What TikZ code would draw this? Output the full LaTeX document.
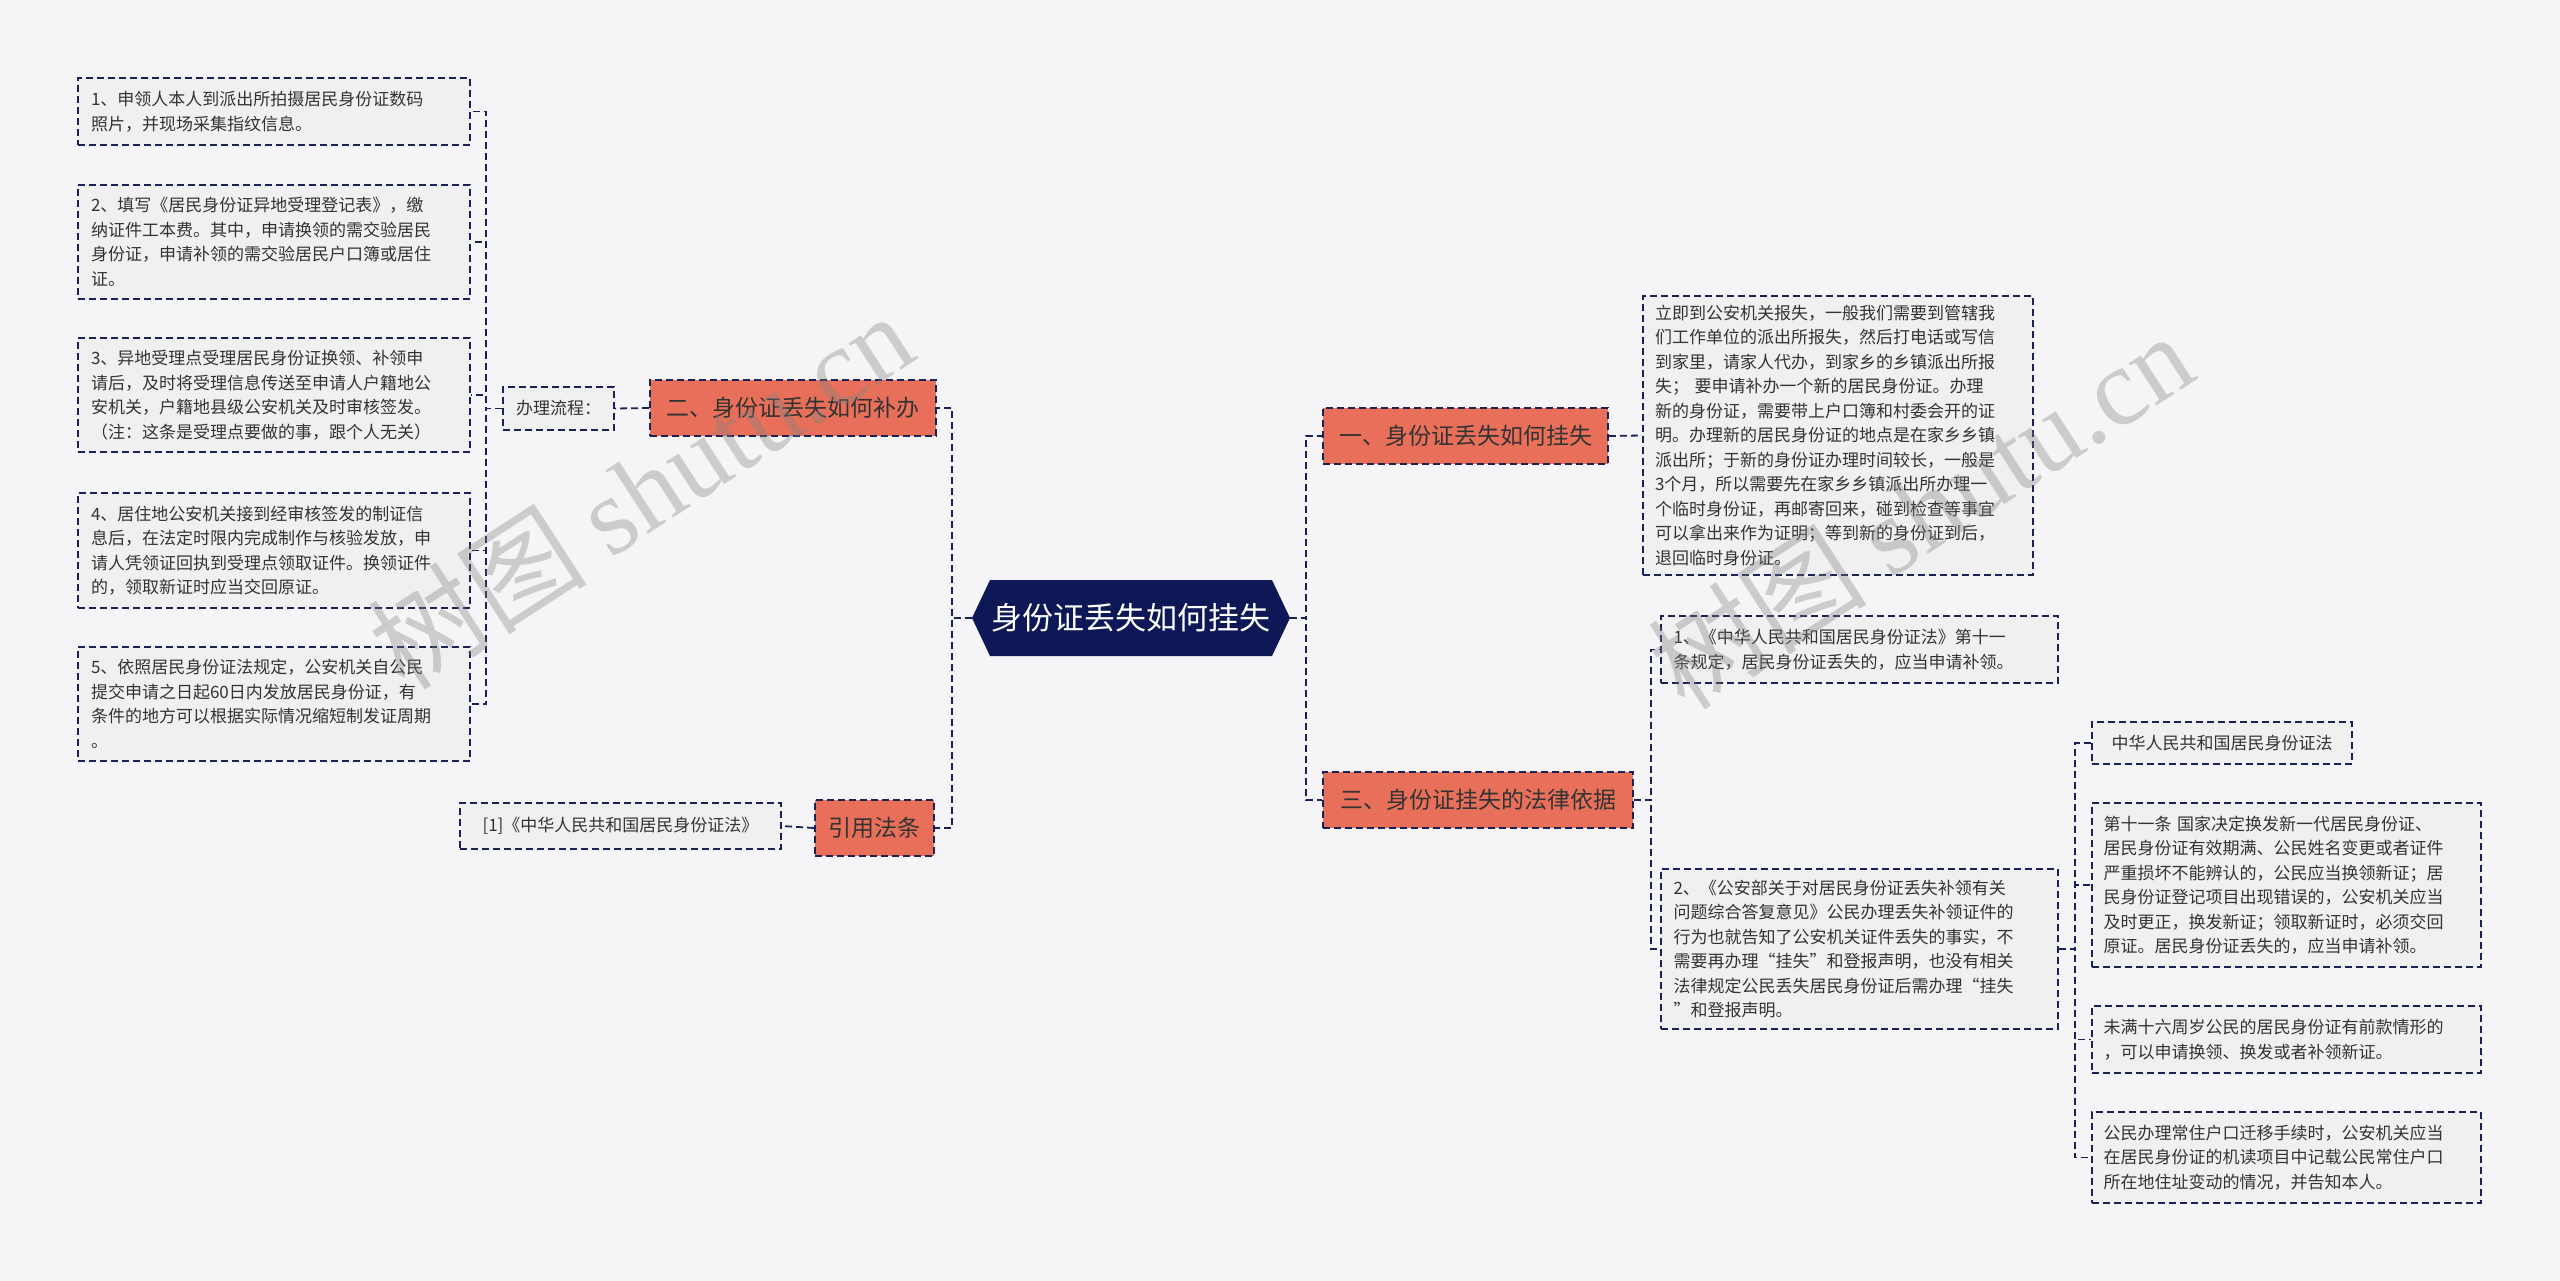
\documentclass[tikz,border=0pt]{standalone}
\usepackage{fontspec}
\setmainfont{Noto Sans CJK SC}
\newfontfamily\wmlat{Liberation Serif}
\usetikzlibrary{calc}
\definecolor{bgc}{HTML}{F5F5F7}
\definecolor{boxc}{HTML}{F0F0F0}
\definecolor{navy}{HTML}{1A2156}
\definecolor{ctr}{HTML}{0E1857}
\definecolor{sal}{HTML}{E8705A}
\definecolor{txt}{HTML}{333333}
\tikzset{
 dsh/.style={dash pattern=on 7pt off 4pt},
 box/.style={draw=navy,dsh,line width=1.8pt,fill=boxc,text=txt,font=\fontsize{17}{24.5}\selectfont,align=left,inner sep=0pt,anchor=center},
 br/.style={draw=navy,dsh,line width=1.8pt,fill=sal,text=txt,font=\fontsize{23}{28}\selectfont,inner sep=0pt},
 con/.style={draw=navy,dsh,line width=1.8pt},
 wm/.style={text=gray,opacity=0.35,font=\fontsize{110}{110}\selectfont,rotate=33}
}
\begin{document}
\begin{tikzpicture}[x=1pt,y=-1pt]
\fill[bgc] (0,0) rectangle (2560,1281);
\useasboundingbox (0,0) rectangle (2560,1281);
% center
\fill[ctr] (972,618) -- (990,580) -- (1272,580) -- (1290,618) -- (1272,656) -- (990,656) -- cycle;
\node[text=white,font=\fontsize{31}{34}\selectfont,minimum width=318pt,minimum height=76pt,inner sep=0pt] (c) at (1131,618) {身份证丢失如何挂失};
% left
\node[br,minimum width=286pt,minimum height=56pt] (two) at (793,408) {二、身份证丢失如何补办};
\node[br,minimum width=119pt,minimum height=56pt] (ref) at (874.5,828) {引用法条};
\node[box,minimum width=111pt,minimum height=43pt,align=center] (flow) at (558.5,408.5) {办理流程：};
\node[box,minimum width=321pt,minimum height=46pt,align=center] (r1) at (620.5,826) {[1]《中华人民共和国居民身份证法》};
\node[box,minimum width=392pt,minimum height=67pt,text width=366pt] (b1) at (274,111.5) {1、申领人本人到派出所拍摄居民身份证数码\\照片，并现场采集指纹信息。};
\node[box,minimum width=392pt,minimum height=114pt,text width=366pt] (b2) at (274,242) {2、填写《居民身份证异地受理登记表》，缴\\纳证件工本费。其中，申请换领的需交验居民\\身份证，申请补领的需交验居民户口簿或居住\\证。};
\node[box,minimum width=392pt,minimum height=114pt,text width=366pt] (b3) at (274,395) {3、异地受理点受理居民身份证换领、补领申\\请后，及时将受理信息传送至申请人户籍地公\\安机关，户籍地县级公安机关及时审核签发。\\（注：这条是受理点要做的事，跟个人无关）};
\node[box,minimum width=392pt,minimum height=115pt,text width=366pt] (b4) at (274,550.5) {4、居住地公安机关接到经审核签发的制证信\\息后，在法定时限内完成制作与核验发放，申\\请人凭领证回执到受理点领取证件。换领证件\\的，领取新证时应当交回原证。};
\node[box,minimum width=392pt,minimum height=114pt,text width=366pt] (b5) at (274,704) {5、依照居民身份证法规定，公安机关自公民\\提交申请之日起60日内发放居民身份证，有\\条件的地方可以根据实际情况缩短制发证周期\\。};
% right
\node[br,minimum width=285pt,minimum height=56pt] (one) at (1465.5,436) {一、身份证丢失如何挂失};
\node[br,minimum width=310pt,minimum height=56pt] (three) at (1478,800) {三、身份证挂失的法律依据};
\node[box,minimum width=390pt,minimum height=279pt,text width=366pt] (t1) at (1838,435.5) {立即到公安机关报失，一般我们需要到管辖我\\们工作单位的派出所报失，然后打电话或写信\\到家里，请家人代办，到家乡的乡镇派出所报\\失；\ 要申请补办一个新的居民身份证。办理\\新的身份证，需要带上户口簿和村委会开的证\\明。办理新的居民身份证的地点是在家乡乡镇\\派出所；于新的身份证办理时间较长，一般是\\3个月，所以需要先在家乡乡镇派出所办理一\\个临时身份证，再邮寄回来，碰到检查等事宜\\可以拿出来作为证明；等到新的身份证到后，\\退回临时身份证。};
\node[box,minimum width=397pt,minimum height=67pt,text width=372pt] (l1) at (1859.5,649.5) {1、《中华人民共和国居民身份证法》第十一\\条规定，居民身份证丢失的，应当申请补领。};
\node[box,minimum width=397pt,minimum height=160pt,text width=372pt] (l2) at (1859.5,949) {2、《公安部关于对居民身份证丢失补领有关\\问题综合答复意见》公民办理丢失补领证件的\\行为也就告知了公安机关证件丢失的事实，不\\需要再办理“挂失”和登报声明，也没有相关\\法律规定公民丢失居民身份证后需办理“挂失\\”和登报声明。};
\node[box,minimum width=260pt,minimum height=42pt,align=center] (s1) at (2222,743) {中华人民共和国居民身份证法};
\node[box,minimum width=389pt,minimum height=164pt,text width=366pt] (s2) at (2286.5,885) {第十一条 国家决定换发新一代居民身份证、\\居民身份证有效期满、公民姓名变更或者证件\\严重损坏不能辨认的，公民应当换领新证；居\\民身份证登记项目出现错误的，公安机关应当\\及时更正，换发新证；领取新证时，必须交回\\原证。居民身份证丢失的，应当申请补领。};
\node[box,minimum width=389pt,minimum height=67pt,text width=366pt] (s3) at (2286.5,1039.5) {未满十六周岁公民的居民身份证有前款情形的\\，可以申请换领、换发或者补领新证。};
\node[box,minimum width=389pt,minimum height=91pt,text width=366pt] (s4) at (2286.5,1157.5) {公民办理常住户口迁移手续时，公安机关应当\\在居民身份证的机读项目中记载公民常住户口\\所在地住址变动的情况，并告知本人。};
% connectors
\draw[con] (c.west) -- ++(-20,0) |- (two.east);
\draw[con] (c.west) -- ++(-20,0) |- (ref.east);
\draw[con] (c.east) -- ++(16,0) |- (one.west);
\draw[con] (c.east) -- ++(16,0) |- (three.west);
\draw[con] (two.west) -- (flow.east);
\draw[con] (ref.west) -- (r1.east);
\foreach \b in {b1,b2,b3,b4,b5} \draw[con] (flow.west) -- ++(-16,0) |- (\b.east);
\draw[con] (one.east) -- (t1.west);
\draw[con] (three.east) -- ++(17,0) |- (l1.west);
\draw[con] (three.east) -- ++(17,0) |- (l2.west);
\foreach \s in {s1,s2,s3,s4} \draw[con] (l2.east) -- ++(16,0) |- (\s.west);
% watermark
\node[wm] at (640,490) {树图 {\wmlat shutu.cn}};
\node[wm] at (1920,510) {树图 {\wmlat shutu.cn}};
\end{tikzpicture}
\end{document}
